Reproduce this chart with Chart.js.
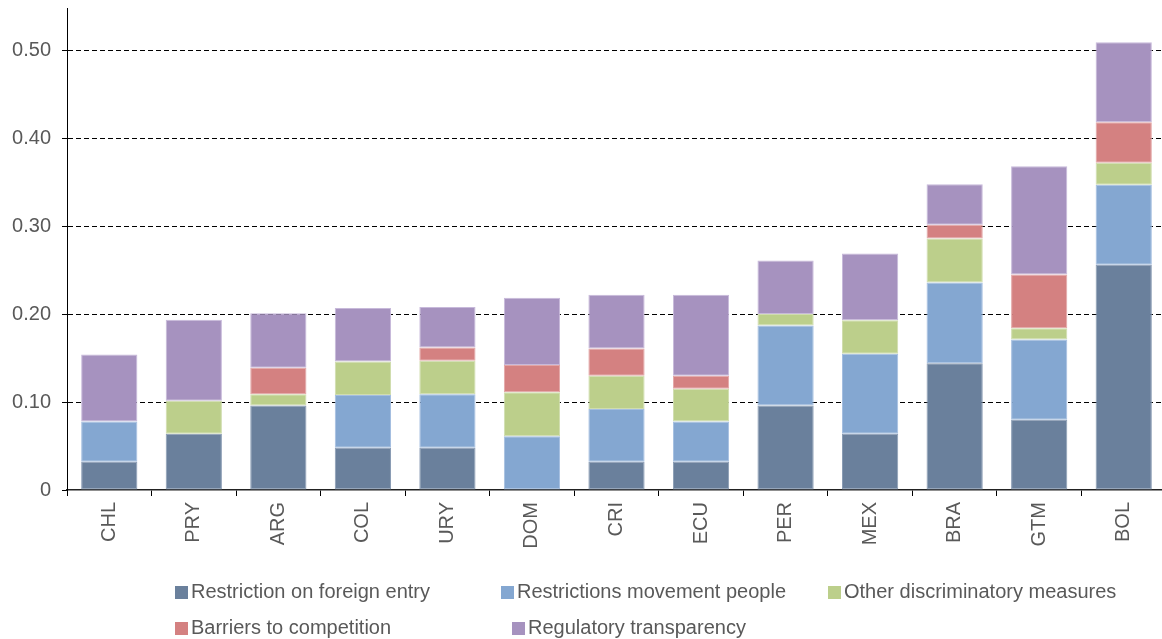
<!DOCTYPE html>
<html>
<head>
<meta charset="utf-8">
<script src="https://cdn.jsdelivr.net/npm/chart.js@4/dist/chart.umd.min.js"></script>
<style>
  html, body { margin: 0; padding: 0; background: #fff; overflow: hidden; }
  #wrap { position: relative; width: 1162px; height: 639px; overflow: hidden; }
  #legend { position: absolute; left: 0; top: 0; font-family: "Liberation Sans", Arial, sans-serif; font-size: 20px; color: #595959; }
  .item { position: absolute; white-space: nowrap; line-height: 22px; }
  .box { display: inline-block; width: 13px; height: 13px; margin-right: 3px; vertical-align: -1px; }
</style>
</head>
<body>
<div id="wrap">
  <canvas id="chart" width="1167" height="639"></canvas>
  <div id="legend"></div>
</div>
<script>
// Países (ordenados por el total)
const countries = ['CHL', 'PRY', 'ARG', 'COL', 'URY', 'DOM', 'CRI', 'ECU', 'PER', 'MEX', 'BRA', 'GTM', 'BOL'];

// Valores (null = sin segmento)
const foreignEntry = [0.032, 0.064, 0.096, 0.048, 0.048, null, 0.032, 0.032, 0.096, 0.064, 0.144, 0.080, 0.256];
const movementPeople = [0.046, null, null, 0.060, 0.061, 0.061, 0.060, 0.046, 0.091, 0.091, 0.092, 0.091, 0.091];
const otherDiscriminatory = [null, 0.0375, 0.013, 0.038, 0.038, 0.050, 0.038, 0.037, 0.013, 0.038, 0.050, 0.013, 0.025];
const barriersCompetition = [null, null, 0.030, null, 0.015, 0.031, 0.031, 0.015, null, null, 0.0155, 0.061, 0.046];
const regulatoryTransparency = [0.076, 0.092, 0.062, 0.061, 0.046, 0.0765, 0.061, 0.092, 0.061, 0.076, 0.046, 0.123, 0.091];

const seriesNames = ['Restriction on foreign entry', 'Restrictions movement people', 'Other discriminatory measures', 'Barriers to competition', 'Regulatory transparency'];
const seriesColors = ['#6A809C', '#84A7D1', '#BCCF8B', '#D48181', '#A692BF'];
const seriesBorders = ['#8A9CB4', '#A4BEE0', '#D0DDAE', '#E3A6A6', '#C7B9DA'];
const yTicks = [0, 0.1, 0.2, 0.3, 0.4, 0.5];

const seriesData = [foreignEntry, movementPeople, otherDiscriminatory, barriersCompetition, regulatoryTransparency];

const datasets = seriesNames.map((name, i) => ({
    label: name,
    data: seriesData[i],
    backgroundColor: seriesColors[i],
    borderColor: seriesBorders[i],
    borderWidth: 1,
    borderSkipped: false,
    barPercentage: 0.665,
    categoryPercentage: 1
}));

const font = { family: '"Liberation Sans", Arial, sans-serif', size: 20 };

new Chart(document.getElementById('chart'), {
    type: 'bar',
    data: { labels: countries, datasets: datasets },
    options: {
        responsive: false,
        animation: false,
        layout: { padding: { left: 0, top: 8, right: 1, bottom: 0 } },
        plugins: { legend: { display: false }, tooltip: { enabled: false } },
        scales: {
            x: {
                stacked: true,
                afterFit: s => { s.height = 149; s.paddingLeft = 0; s.paddingRight = 0; },
                grid: { drawOnChartArea: false, drawTicks: true, tickLength: 6, tickColor: '#000', offset: true },
                border: { color: '#222', width: 1.5 },
                ticks: { color: '#595959', font: font, minRotation: 90, maxRotation: 90, padding: 6, autoSkip: false }
            },
            y: {
                stacked: true,
                min: 0,
                max: 0.548,
                afterFit: s => { s.width = 67; s.paddingTop = 0; s.paddingBottom = 0; },
                afterBuildTicks: s => { s.ticks = yTicks.map(v => ({ value: v })); },
                grid: {
                    color: ctx => ctx.tick && ctx.tick.value === 0 ? 'rgba(0,0,0,0)' : '#000',
                    lineWidth: 1,
                    tickLength: 5,
                    tickColor: '#000',
                    tickBorderDash: []
                },
                border: { color: '#000', width: 1, dash: [5, 3] },
                ticks: {
                    color: '#595959',
                    font: font,
                    padding: 11,
                    callback: v => v === 0 ? '0' : v.toFixed(2)
                }
            }
        }
    }
});

// Leyenda en HTML con las posiciones del original
const legendPos = [[175, 580], [501, 580], [828, 580], [175, 616], [512, 616]];
const legend = document.getElementById('legend');
seriesNames.forEach((name, i) => {
    const div = document.createElement('div');
    div.className = 'item';
    div.style.left = legendPos[i][0] + 'px';
    div.style.top = legendPos[i][1] + 'px';
    const box = document.createElement('span');
    box.className = 'box';
    box.style.background = seriesColors[i];
    div.appendChild(box);
    div.appendChild(document.createTextNode(name));
    legend.appendChild(div);
});
</script>
</body>
</html>
